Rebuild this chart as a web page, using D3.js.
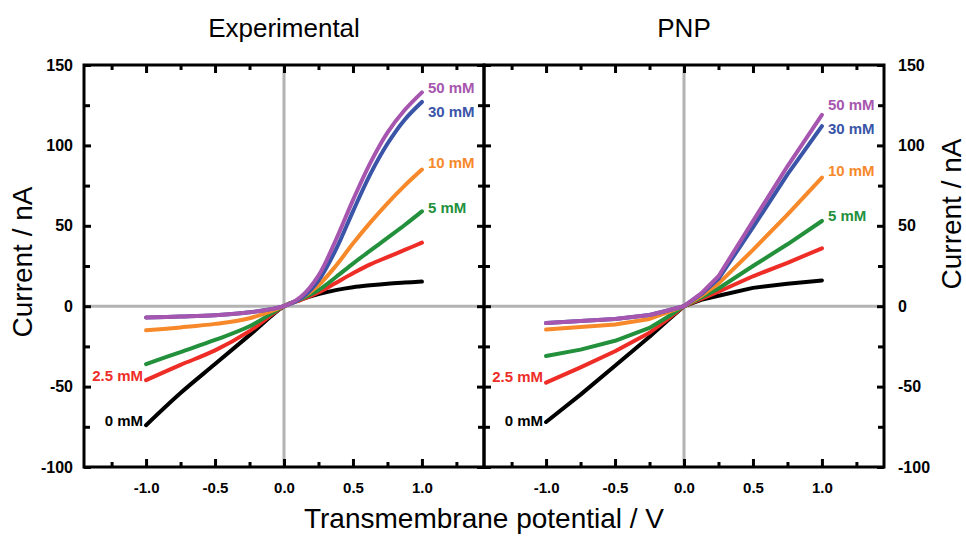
<!DOCTYPE html>
<html>
<head>
<meta charset="utf-8">
<script src="https://cdn.jsdelivr.net/npm/d3@7"></script>
<style>
  body { margin: 0; background: #fff; }
  svg { display: block; font-family: "Liberation Sans", Arial, sans-serif; }
</style>
</head>
<body>
<div id="chart"></div>
<script>
"use strict";

// concentrations, drawn bottom to top
const concentrations = ["0 mM", "2.5 mM", "5 mM", "10 mM", "30 mM", "50 mM"];
const colors = ["#000000", "#ee2d27", "#23903c", "#f7892a", "#3a55a8", "#a656ae"];

// experimental I-V curves
const expPotential = [-1, -0.75, -0.5, -0.25, 0, 0.125, 0.25, 0.375, 0.5, 0.625, 0.75, 0.875, 1];
const exp0   = [-74, -54, -36, -18, 0, 4.2, 7.5, 10, 11.8, 13, 14, 14.7, 15.3];
const exp2_5 = [-46, -36.5, -27.5, -15.5, 0, 4, 8.5, 14.5, 20.5, 26, 30.5, 35, 39.5];
const exp5   = [-36, -28.5, -21, -12.5, 0, 4.5, 10, 18, 26.5, 34.5, 42.5, 50.5, 59];
const exp10  = [-15, -13.2, -11, -7.5, 0, 5, 13, 25, 39, 52, 64, 75, 85];
const exp30  = [-7, -6.4, -5.6, -3.8, 0, 5, 16, 35, 59, 82, 101, 116, 127];
const exp50  = [-7, -6.4, -5.6, -3.8, 0, 6, 19, 41, 66, 89, 108, 122, 133];

// PNP model curves
const pnpPotential = [-1, -0.75, -0.5, -0.25, -0.125, 0, 0.125, 0.25, 0.5, 0.75, 1];
const pnp0   = [-72, -55, -37, -19, -9.3, 0, 4, 6.5, 11.4, 14, 16];
const pnp2_5 = [-47.5, -38, -28, -16.5, -8.5, 0, 4.5, 9, 18.6, 27, 36];
const pnp5   = [-31, -27, -21.5, -13.5, -7, 0, 5.5, 11, 25, 38.5, 53];
const pnp10  = [-14.5, -13, -11.4, -7.9, -4, 0, 6.5, 14, 35, 57, 80];
const pnp30  = [-10.5, -9.2, -7.9, -5.5, -2.8, 0, 7.5, 17, 49, 82, 112];
const pnp50  = [-10.5, -9.2, -7.9, -5.5, -2.8, 0, 8, 18.6, 53, 87, 119];

// where the concentration labels sit (current, nA)
const expLabelY = [-71, -43, 61, 89, 121, 136];
const pnpLabelY = [-71, -44, 56, 84, 110.5, 125];

const xTicks = [-1, -0.5, 0, 0.5, 1];
const xMinorTicks = [-1.25, -0.75, -0.25, 0.25, 0.75, 1.25];
const yTicks = [-100, -50, 0, 50, 100, 150];
const yMinorTicks = [-75, -25, 25, 75, 125];

const panels = [
  { title: "Experimental", potential: expPotential, series: [exp0, exp2_5, exp5, exp10, exp30, exp50], labelY: expLabelY, curve: d3.curveCatmullRom.alpha(0.5), left: 84 },
  { title: "PNP", potential: pnpPotential, series: [pnp0, pnp2_5, pnp5, pnp10, pnp30, pnp50], labelY: pnpLabelY, curve: d3.curveLinear, left: 484 }
];

const width = 966, height = 538;
const panelWidth = 400, plotTop = 65, plotBottom = 467;

const svg = d3.select("#chart").append("svg")
  .attr("width", width)
  .attr("height", height);

panels.forEach(function(p, pi) {
  const x = d3.scaleLinear().domain([-1.45, 1.45]).range([p.left, p.left + panelWidth]);
  const y = d3.scaleLinear().domain([-100, 150]).range([plotBottom, plotTop]);
  const g = svg.append("g");

  /* grey zero lines */
  g.append("line")
    .attr("x1", x(0)).attr("x2", x(0)).attr("y1", plotTop).attr("y2", plotBottom)
    .attr("stroke", "#b3b3b3").attr("stroke-width", 3);
  g.append("line")
    .attr("x1", p.left).attr("x2", p.left + panelWidth).attr("y1", y(0)).attr("y2", y(0))
    .attr("stroke", "#b3b3b3").attr("stroke-width", 3);

  /* the curves */
  const line = d3.line()
    .x(function(d) { return x(d[0]); })
    .y(function(d) { return y(d[1]); })
    .curve(p.curve);

  p.series.forEach(function(values, i) {
    g.append("path")
      .datum(p.potential.map(function(v, k) { return [v, values[k]]; }))
      .attr("fill", "none")
      .attr("stroke", colors[i])
      .attr("stroke-width", 4)
      .attr("stroke-linecap", "round")
      .attr("stroke-linejoin", "round")
      .attr("d", line);
  });

  /* concentration labels: low two on the left, rest at the right end */
  concentrations.forEach(function(c, i) {
    const onLeft = i < 2;
    g.append("text")
      .attr("x", onLeft ? x(-1) - 3 : x(1) + 6)
      .attr("y", y(p.labelY[i]))
      .attr("dy", "0.35em")
      .attr("text-anchor", onLeft ? "end" : "start")
      .attr("fill", colors[i])
      .style("font-size", "15px")
      .style("font-weight", "bold")
      .text(c);
  });

  /* ticks, all pointing inward */
  function tickAxis(axis, pos, values, size) {
    const a = g.append("g")
      .attr("transform", pos)
      .call(axis.tickValues(values).tickSizeInner(-size).tickSizeOuter(0).tickFormat(""));
    a.select(".domain").remove();
    a.selectAll("line").attr("stroke", "#000").attr("stroke-width", 3);
    return a;
  }
  tickAxis(d3.axisBottom(x), "translate(0," + plotBottom + ")", xMinorTicks, 5);
  tickAxis(d3.axisTop(x), "translate(0," + plotTop + ")", xMinorTicks, 5);
  tickAxis(d3.axisTop(x), "translate(0," + plotTop + ")", xTicks, 8);
  tickAxis(d3.axisLeft(y), "translate(" + p.left + ",0)", yMinorTicks, 6);
  tickAxis(d3.axisRight(y), "translate(" + (p.left + panelWidth) + ",0)", yMinorTicks, 6);

  /* bottom axis with labels (plain hyphen minus as in the figure) */
  const xAxis = g.append("g")
    .attr("transform", "translate(0," + plotBottom + ")")
    .call(d3.axisBottom(x).tickValues(xTicks).tickSizeInner(-8).tickSizeOuter(0)
      .tickPadding(15).tickFormat(function(d) { return d.toFixed(1); }));
  xAxis.select(".domain").remove();
  xAxis.selectAll("line").attr("stroke", "#000").attr("stroke-width", 3);
  xAxis.selectAll("text")
    .attr("fill", "#000")
    .style("font-size", "15px")
    .style("font-weight", "bold")
    .style("font-family", "'Liberation Sans', Arial, sans-serif");

  /* y axes: labelled on the outer side only */
  const yLeft = g.append("g")
    .attr("transform", "translate(" + p.left + ",0)")
    .call(d3.axisLeft(y).tickValues(yTicks).tickSizeInner(-7).tickSizeOuter(0).tickPadding(11)
      .tickFormat(function(d) { return String(d); }));
  const yRight = g.append("g")
    .attr("transform", "translate(" + (p.left + panelWidth) + ",0)")
    .call(d3.axisRight(y).tickValues(yTicks).tickSizeInner(-7).tickSizeOuter(0).tickPadding(14)
      .tickFormat(function(d) { return String(d); }));
  [yLeft, yRight].forEach(function(a) {
    a.select(".domain").remove();
    a.selectAll("line").attr("stroke", "#000").attr("stroke-width", 3);
    a.selectAll("text")
      .attr("fill", "#000")
      .style("font-size", "16px")
      .style("font-weight", "bold")
      .style("font-family", "'Liberation Sans', Arial, sans-serif");
  });
  if (pi === 0) yRight.selectAll("text").remove();
  else yLeft.selectAll("text").remove();

  /* frame */
  g.append("rect")
    .attr("x", p.left).attr("y", plotTop)
    .attr("width", panelWidth).attr("height", plotBottom - plotTop)
    .attr("fill", "none").attr("stroke", "#000").attr("stroke-width", 3);

  /* panel title */
  g.append("text")
    .attr("x", x(0)).attr("y", 37)
    .attr("text-anchor", "middle")
    .style("font-size", "26px")
    .text(p.title);
});

/* axis titles */
svg.append("text")
  .attr("transform", "translate(32,262) rotate(-90)")
  .attr("text-anchor", "middle")
  .style("font-size", "28px")
  .text("Current / nA");

svg.append("text")
  .attr("transform", "translate(961,214) rotate(-90)")
  .attr("text-anchor", "middle")
  .style("font-size", "28px")
  .text("Current / nA");

svg.append("text")
  .attr("x", 484).attr("y", 528)
  .attr("text-anchor", "middle")
  .style("font-size", "28px")
  .text("Transmembrane potential / V");
</script>
</body>
</html>
